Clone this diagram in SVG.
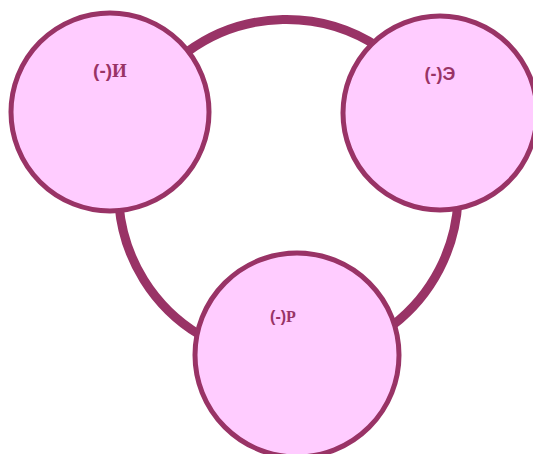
<svg xmlns="http://www.w3.org/2000/svg" width="533" height="454" viewBox="0 0 533 454">
<style>
.node{fill:#ffccff;stroke:#993366;stroke-width:5}
.conn{fill:none;stroke:#993366;stroke-width:9}
.lbl{fill:#993366;font-weight:bold;text-anchor:middle}
.s{font-family:"Liberation Sans",sans-serif}
.r{font-family:"Liberation Serif",serif}
</style>
<rect width="533" height="454" fill="#ffffff"/>
<g id="connectors">
<path class="conn" d="M 187 52 A 168 168 0 0 1 380 48"/>
<path class="conn" d="M 119 205 A 168 168 0 0 0 200 335"/>
<path class="conn" d="M 458 200 A 168 168 0 0 1 393 325"/>
</g>
<g id="node-i">
<circle class="node" cx="110" cy="112" r="99"/>
<text class="lbl" x="110" y="77" font-size="19"><tspan class="s">(-)</tspan><tspan class="r">И</tspan></text>
</g>
<g id="node-e">
<circle class="node" cx="440" cy="113" r="97"/>
<text class="lbl s" x="440" y="80" font-size="18">(-)Э</text>
</g>
<g id="node-r">
<circle class="node" cx="297" cy="355" r="102"/>
<text class="lbl" x="283" y="322" font-size="16"><tspan class="s">(-)</tspan><tspan class="r">Р</tspan></text>
</g>
</svg>
